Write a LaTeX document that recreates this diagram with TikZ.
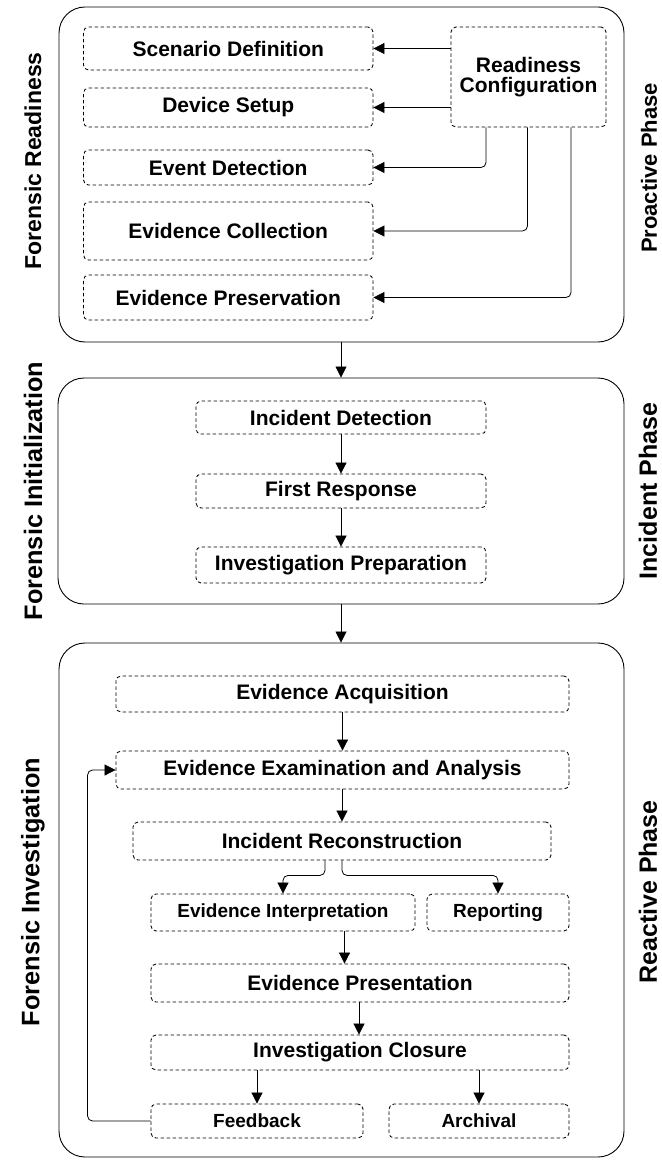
\documentclass[tikz,border=0pt]{standalone}
\usepackage{fontspec}
\setmainfont{Liberation Sans}
\usetikzlibrary{arrows.meta}
\begin{document}
\begin{tikzpicture}[x=1pt,y=-1pt,
  phase/.style={draw, line width=0.9pt, rounded corners=26pt, inner sep=0pt},
  stepbox/.style={draw, dash pattern=on 3.5pt off 2.5pt, line width=0.85pt, rounded corners=5pt, inner sep=0pt, font=\fontsize{21}{21}\selectfont\bfseries, align=center},
  smallbox/.style={stepbox, font=\fontsize{19}{19}\selectfont\bfseries},
  side/.style={font=\fontsize{#1}{#1}\selectfont\bfseries, rotate=90},
  arr/.style={-{Triangle[length=11pt,width=11pt]}, line width=0.8pt, rounded corners=5pt},
]
\useasboundingbox (0,0) rectangle (661,1161);

% phase containers
\node[phase, minimum width=565pt, minimum height=335pt] (ph1) at (341.5,174.5) {};
\node[phase, minimum width=566pt, minimum height=226pt] (ph2) at (341,491) {};
\node[phase, minimum width=565pt, minimum height=514pt] (ph3) at (341.5,900) {};

% side labels
\node[side=23] (l1) at (33,161) {Forensic Readiness};
\node[side=25.3] (l2) at (33,491) {Forensic Initialization};
\node[side=25.3] (l3) at (33,892) {Forensic Investigation};
\node[side=22] (r1) at (649,168) {Proactive Phase};
\node[side=25] (r2) at (648,491) {Incident Phase};
\node[side=25] (r3) at (648,892) {Reactive Phase};

% readiness
\node[stepbox, minimum width=289.5pt, minimum height=43pt] (scen) at (228.25,48.5) {Scenario Definition};
\node[stepbox, minimum width=289.5pt, minimum height=39pt] (dev) at (228.25,107.5) {Device Setup};
\node[stepbox, minimum width=289.5pt, minimum height=35pt] (evdet) at (228.25,167.5) {Event Detection};
\node[stepbox, minimum width=289.5pt, minimum height=58pt] (evcol) at (228.25,231) {Evidence Collection};
\node[stepbox, minimum width=289.5pt, minimum height=45pt] (evpres) at (228.25,297.5) {Evidence Preservation};
\node[stepbox, minimum width=155pt, minimum height=100pt] (rc) at (528.5,77) {Readiness\\[-1pt]Configuration};

\draw[arr] (scen.east -| rc.west) -- (scen.east);
\draw[arr] (dev.east -| rc.west) -- (dev.east);
\draw[arr] ([xshift=-42.5pt]rc.south) |- (evdet.east);
\draw[arr] ([xshift=-1pt]rc.south) |- (evcol.east);
\draw[arr] ([xshift=42.5pt]rc.south) |- (evpres.east);

% initialization
\node[stepbox, minimum width=290pt, minimum height=33pt] (incdet) at (341,417.5) {Incident Detection};
\node[stepbox, minimum width=290pt, minimum height=34pt] (first) at (341,491) {First Response};
\node[stepbox, minimum width=290pt, minimum height=36pt] (prep) at (341,565) {Investigation Preparation};
\draw[arr] (incdet) -- (first);
\draw[arr] (first) -- (prep);

\draw[arr] (ph1.south -| incdet.south) -- (ph2.north -| incdet.south);
\draw[arr] (ph2.south -| incdet.south) -- (ph3.north -| incdet.south);

% investigation
\node[stepbox, minimum width=453pt, minimum height=36pt] (acq) at (342.5,694) {Evidence Acquisition};
\node[stepbox, minimum width=453pt, minimum height=38pt] (exam) at (342.5,770) {Evidence Examination and Analysis};
\node[stepbox, minimum width=418pt, minimum height=38pt] (recon) at (342,841) {Incident Reconstruction};
\node[smallbox, minimum width=264pt, minimum height=37pt] (interp) at (283,912.5) {Evidence Interpretation};
\node[smallbox, minimum width=142pt, minimum height=37pt] (rep) at (498,912.5) {Reporting};
\node[stepbox, minimum width=418pt, minimum height=38pt] (pres) at (360,983) {Evidence Presentation};
\node[stepbox, minimum width=418pt, minimum height=35pt] (clos) at (360,1052.5) {Investigation Closure};
\node[smallbox, minimum width=212pt, minimum height=34pt] (feed) at (257,1121) {Feedback};
\node[smallbox, minimum width=180pt, minimum height=34pt] (arch) at (479,1121) {Archival};

\draw[arr] (acq) -- (exam);
\draw[arr] (exam.south -| recon.north) -- (recon.north);
\draw[arr] ([xshift=-17pt]recon.south) -- ++(0,15) -| (interp.north);
\draw[arr] (recon.south) -- ++(0,15) -| (rep.north);
\draw[arr] (interp.south -| 344.5,0) -- (pres.north -| 344.5,0);
\draw[arr] (pres.south -| 359,0) -- (clos.north -| 359,0);
\draw[arr] (clos.south -| feed.north) -- (feed.north);
\draw[arr] (clos.south -| arch.north) -- (arch.north);
\draw[arr] (feed.west) -- ++(-63,0) |- (exam.west);
\end{tikzpicture}
\end{document}
